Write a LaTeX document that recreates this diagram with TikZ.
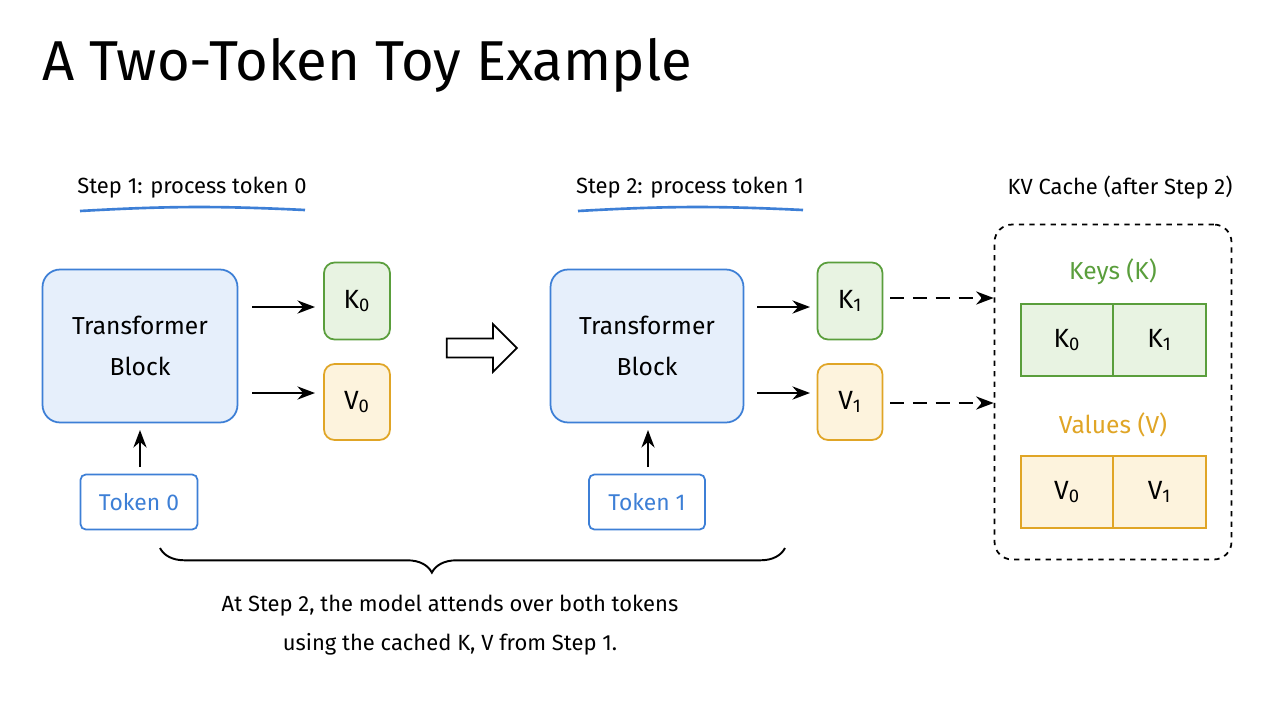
\documentclass[tikz,border=0pt]{standalone}
\usepackage{fontspec}
\setmainfont{Fira Sans}
\usetikzlibrary{shapes.arrows,decorations.pathreplacing,arrows.meta}
\definecolor{blk}{HTML}{3D7FD6}
\definecolor{blkfill}{HTML}{E6EFFB}
\definecolor{kgreen}{HTML}{5A9E3C}
\definecolor{kfill}{HTML}{E8F3E2}
\definecolor{vorange}{HTML}{E0A526}
\definecolor{vfill}{HTML}{FDF3DD}
\tikzset{
  block/.style={draw=blk,fill=blkfill,rounded corners=10pt,line width=1pt,font=\fontsize{14}{18}\selectfont,align=center},
  kbox/.style={draw=kgreen,fill=kfill,rounded corners=6pt,line width=1pt,font=\fontsize{15}{18}\selectfont},
  vbox/.style={draw=vorange,fill=vfill,rounded corners=6pt,line width=1pt,font=\fontsize{15}{18}\selectfont},
  tok/.style={draw=blk,fill=white,rounded corners=3pt,line width=1pt,text=blk,font=\fontsize{13}{16}\selectfont},
  kcell/.style={draw=kgreen,fill=kfill,line width=1pt,font=\fontsize{15}{18}\selectfont},
  vcell/.style={draw=vorange,fill=vfill,line width=1pt,font=\fontsize{15}{18}\selectfont},
  steplabel/.style={font=\fontsize{12.5}{16}\selectfont},
  arr/.style={-{Stealth[length=10pt]},line width=1.2pt},
}
\begin{document}
\begin{tikzpicture}[x=0.02cm,y=-0.02cm]
\useasboundingbox[fill=white] (0,0) rectangle (1280,720);

% Title
\node[anchor=west,font=\fontsize{32}{36}\selectfont] (title) at (36,65) {A Two-Token Toy Example};

% Step labels
\node[steplabel] (step1) at (192,188) {Step 1: process token 0};
\node[steplabel] (step2) at (690,188) {Step 2: process token 1};
\node[steplabel] (cachelbl) at (1120,188) {KV Cache (after Step 2)};
\draw[blk,line width=1.5pt] (80,211) to[bend left=3] (305,210);
\draw[blk,line width=1.5pt] (578,211) to[bend left=3] (803,210);

% Step 1
\node[block,minimum width=3.9cm,minimum height=3.06cm] (block1) at (140,346) {Transformer\\[5pt]Block};
\node[kbox,minimum width=1.32cm,minimum height=1.54cm] (k0) at (357,301) {K\textsubscript{0}};
\node[vbox,minimum width=1.32cm,minimum height=1.52cm] (v0) at (357,402) {V\textsubscript{0}};
\node[tok,minimum width=2.34cm,minimum height=1.1cm] (tok0) at (139,502) {Token 0};
\draw[arr] (252,307) -- (315,307);
\draw[arr] (252,393) -- (315,393);
\draw[arr] (140,467) -- (140,430);

% Big hollow arrow
\node[single arrow,draw,fill=white,line width=1pt,minimum width=0.95cm,single arrow head extend=0.2cm,minimum height=1.4cm] (next) at (477,348) {};

% Step 2
\node[block,minimum width=3.86cm,minimum height=3.06cm] (block2) at (647,346) {Transformer\\[5pt]Block};
\node[kbox,minimum width=1.3cm,minimum height=1.54cm] (k1) at (850,301) {K\textsubscript{1}};
\node[vbox,minimum width=1.3cm,minimum height=1.52cm] (v1) at (850,402) {V\textsubscript{1}};
\node[tok,minimum width=2.32cm,minimum height=1.1cm] (tok1) at (647,502) {Token 1};
\draw[arr] (757,307) -- (810,307);
\draw[arr] (757,393) -- (810,393);
\draw[arr] (648,467) -- (648,430);

% KV cache
\node[draw,dashed,rounded corners=10pt,line width=1pt,minimum width=4.74cm,minimum height=6.7cm] (cache) at (1113,392) {};
\node[text=kgreen,font=\fontsize{14}{18}\selectfont] (keys) at (1113,272) {Keys (K)};
\node[kcell,minimum width=1.84cm,minimum height=1.44cm] (ck0) at (1067,340) {K\textsubscript{0}};
\node[kcell,minimum width=1.86cm,minimum height=1.44cm] (ck1) at (1159.5,340) {K\textsubscript{1}};
\node[text=vorange,font=\fontsize{14}{18}\selectfont] (vals) at (1113,425) {Values (V)};
\node[vcell,minimum width=1.84cm,minimum height=1.44cm] (cv0) at (1067,492) {V\textsubscript{0}};
\node[vcell,minimum width=1.86cm,minimum height=1.44cm] (cv1) at (1159.5,492) {V\textsubscript{1}};
\coordinate (kd) at (890,298);
\coordinate (vd) at (890,403);
\draw[arr,dash pattern=on 8pt off 5pt] (kd) -- (kd -| cache.west);
\draw[arr,dash pattern=on 8pt off 5pt] (vd) -- (vd -| cache.west);

% Brace and note
\draw[decorate,decoration={brace,amplitude=14pt,mirror,aspect=0.435},line width=1.1pt] (160,548) -- (785,548);
\node[font=\fontsize{12.5}{22}\selectfont,align=center] (note) at (450,625) {At Step 2, the model attends over both tokens\\using the cached K, V from Step 1.};
\end{tikzpicture}
\end{document}
